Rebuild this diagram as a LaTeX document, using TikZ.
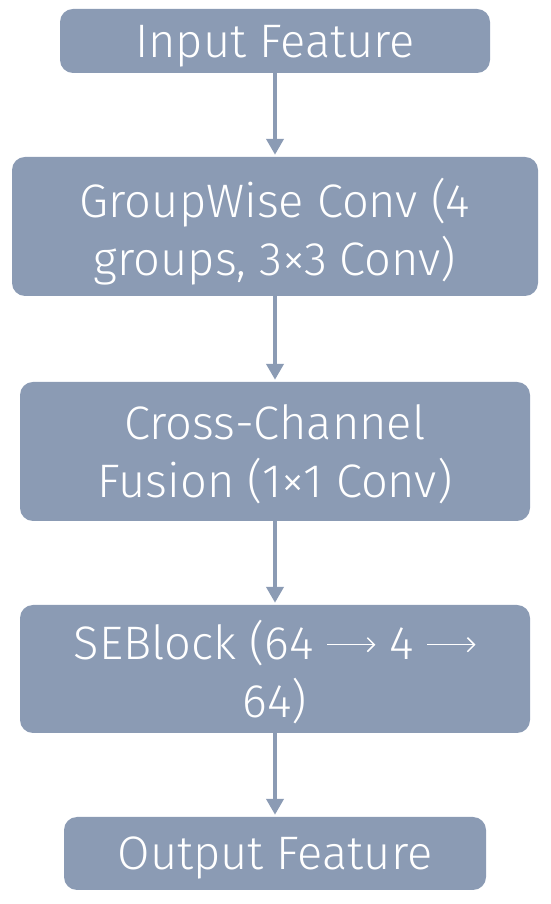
\documentclass[tikz,border=0pt]{standalone}
\usepackage{fontspec}
\setmainfont{Fira Sans Light}
\usetikzlibrary{arrows.meta}
\definecolor{boxblue}{RGB}{139,155,180}
\tikzset{
  stage/.style={fill=boxblue, rounded corners=13pt, text=white, align=center,
    inner sep=0pt, text depth=0pt, font=\fontsize{47}{58}\selectfont},
  flow/.style={draw=boxblue, line width=4pt, -{Triangle[length=16pt,width=17pt]}, shorten >=2pt}
}
\newcommand{\larr}{\tikz[baseline={(0pt,-15pt)}]\draw[white, line width=1.5pt, -{Straight Barb[length=7pt,width=14pt]}] (0pt,0pt) -- (48pt,0pt);}
\begin{document}
\begin{tikzpicture}[x=1pt,y=1pt]
\useasboundingbox (0,0) rectangle (550,904);
\node[stage, minimum width=430, minimum height=64] (input) at (275,863) {Input Feature};
\node[stage, minimum width=526, minimum height=139] (gconv) at (275,677.5) {GroupWise Conv (4\\groups, 3×3 Conv)};
\node[stage, minimum width=510, minimum height=139] (fusion) at (275,452.5) {Cross-Channel\\Fusion (1×1 Conv)};
\node[stage, minimum width=510, minimum height=128] (se) at (275,235) {SEBlock (64 \larr{} 4 \larr\\64)};
\node[stage, minimum width=422, minimum height=73] (output) at (275,50.5) {Output Feature};

\draw[flow] (input) -- (gconv);
\draw[flow] (gconv) -- (fusion);
\draw[flow] (fusion) -- (se);
\draw[flow] (se) -- (output);
\end{tikzpicture}
\end{document}
